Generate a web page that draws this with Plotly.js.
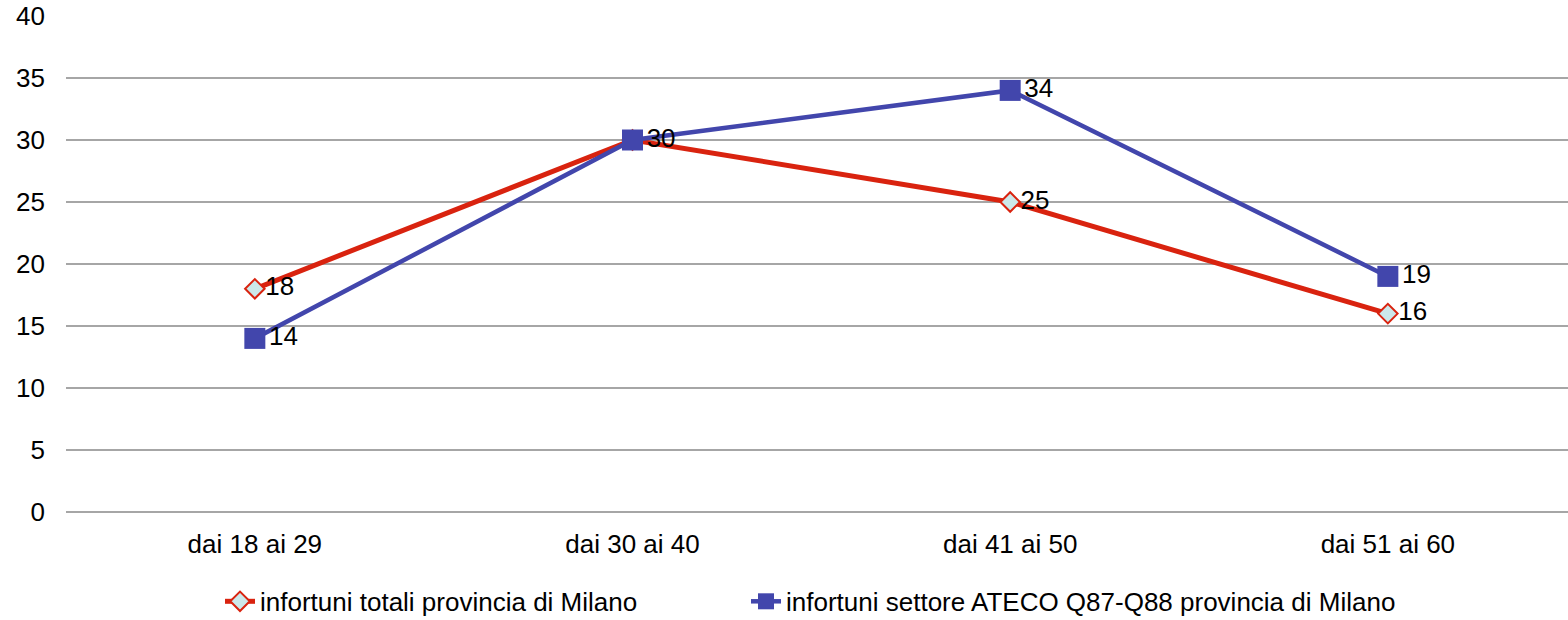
<!DOCTYPE html>
<html>
<head>
<meta charset="utf-8">
<script src="https://cdn.plot.ly/plotly-3.0.1.min.js"></script>
<style>html,body{margin:0;padding:0;background:#fff;}#chart{width:1568px;height:620px;}</style>
</head>
<body>
<div id="chart"></div>
<script>
const categories = ["dai 18 ai 29", "dai 30 ai 40", "dai 41 ai 50", "dai 51 ai 60"];
const seriesNames = ["infortuni totali provincia di Milano", "infortuni settore ATECO Q87-Q88 provincia di Milano"];
const totali = [18, 30, 25, 16];
const ateco = [14, 30, 34, 19];
const yTicks = [0, 5, 10, 15, 20, 25, 30, 35, 40];

const font = {family: "Liberation Sans, Arial, sans-serif", size: 26, color: "#000"};
const traces = [
  {
    x: categories, y: totali, name: seriesNames[0], type: "scatter", mode: "lines+markers+text",
    line: {color: "#d9230f", width: 5},
    marker: {symbol: "diamond", size: 15, color: "#cce8ea", line: {color: "#d9230f", width: 2}},
    text: totali.map((v, i) => v === ateco[i] ? "" : String(v)),
    textposition: "middle right", textfont: font, cliponaxis: false,
    legend: "legend"
  },
  {
    x: categories, y: ateco, name: seriesNames[1], type: "scatter", mode: "lines+markers+text",
    line: {color: "#4246ac", width: 4.5},
    marker: {symbol: "square", size: 21, color: "#4246ac", line: {color: "#4246ac", width: 0}},
    text: ateco.map(String), textposition: "middle right", textfont: font, cliponaxis: false,
    legend: "legend2"
  }
];
const legendBase = {orientation: "h", xref: "container", yref: "container", xanchor: "left", y: 0.03, yanchor: "middle",
                    font: font, bgcolor: "rgba(0,0,0,0)"};
const layout = {
  width: 1568, height: 620,
  margin: {l: 66, r: 0, t: 16, b: 108, autoexpand: false},
  paper_bgcolor: "#fff", plot_bgcolor: "#fff",
  font: font,
  showlegend: true,
  legend: Object.assign({}, legendBase, {x: 220 / 1568}),
  legend2: Object.assign({}, legendBase, {x: 746 / 1568}),
  xaxis: {type: "category", range: [-0.5, 3.477], showgrid: false, zeroline: false, showline: false, ticks: "",
          tickfont: font, automargin: false, ticklabelstandoff: 14},
  yaxis: {range: [0, 40], tickvals: yTicks, ticktext: yTicks.map(String), showgrid: true, gridcolor: "#a6a6a6", gridwidth: 1.5,
          zeroline: true, zerolinecolor: "#a6a6a6", zerolinewidth: 1.5, showline: false, ticks: "", tickfont: font,
          ticklabelstandoff: 20, automargin: false}
};
Plotly.newPlot("chart", traces, layout, {displayModeBar: false, staticPlot: true});
</script>
</body>
</html>
